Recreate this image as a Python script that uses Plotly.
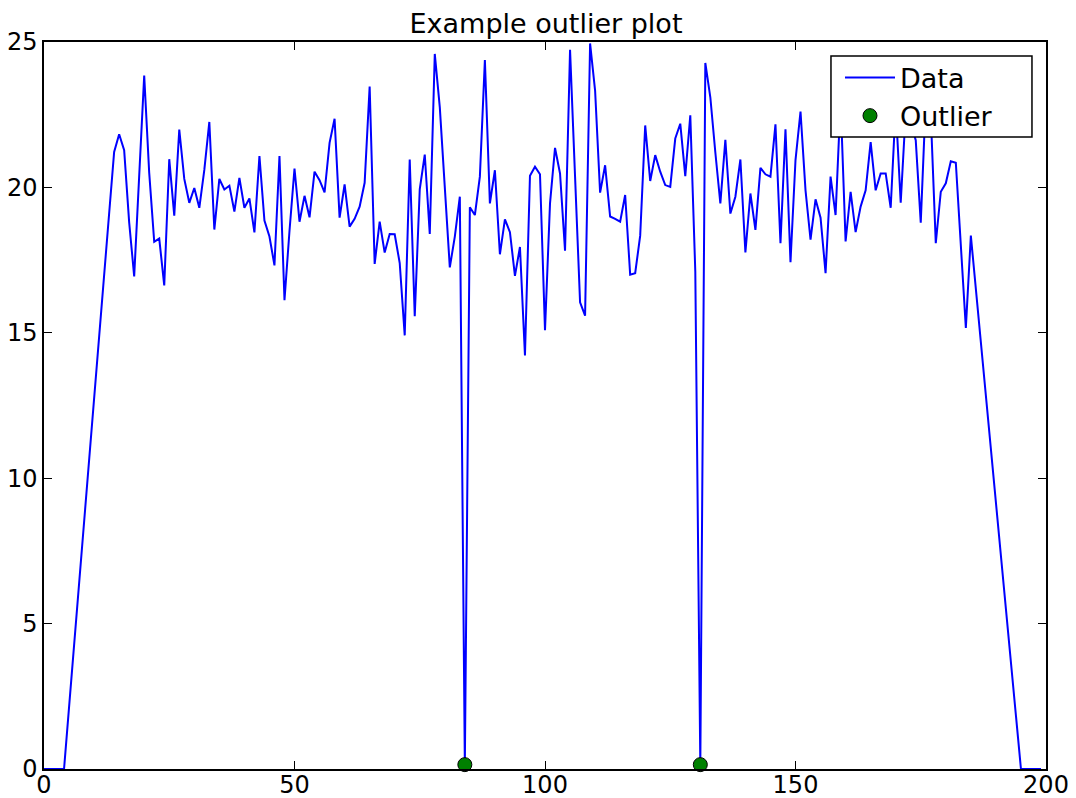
import plotly.graph_objects as go

# Data
lead_x = [0, 4]
lead_y = [0.0, 0.0]
start_x = 14
body_y = [
    21.22, 21.83, 21.28, 18.8, 16.94, 20.4, 23.85, 20.5, 18.13, 18.24,   # 14-23
    16.63, 20.97, 19.03, 21.99, 20.29, 19.47, 19.98, 19.3, 20.6, 22.25,  # 24-33
    18.55, 20.29, 19.93, 20.06, 19.17, 20.33, 19.3, 19.62, 18.45, 21.08, # 34-43
    18.86, 18.31, 17.32, 21.08, 16.12, 18.5, 20.65, 18.82, 19.71, 18.97, # 44-53
    20.54, 20.25, 19.83, 21.53, 22.36, 18.96, 20.1, 18.65, 18.92, 19.34, # 54-63
    20.16, 23.47, 17.37, 18.82, 17.76, 18.4, 18.39, 17.4, 14.91, 20.96,  # 64-73
    15.57, 19.93, 21.13, 18.4, 24.59, 22.76, 20.0, 17.25, 18.31, 19.68,  # 74-83
    0.15, 19.32, 19.05, 20.37, 24.38, 19.45, 20.59, 17.7, 18.9, 18.46,   # 84-93
    16.96, 17.95, 14.22, 20.4, 20.71, 20.45, 15.09, 19.45, 21.36, 20.48, # 94-103
    17.82, 24.73, 20.37, 16.05, 15.59, 24.95, 23.33, 19.82, 20.76, 19.0, # 104-113
    18.92, 18.82, 19.74, 17.0, 17.05, 18.34, 22.13, 20.22, 21.11, 20.54, # 114-123
    20.08, 20.02, 21.68, 22.19, 20.39, 22.48, 17.1, 0.15, 24.28, 23.1,   # 124-133
    21.2, 19.45, 21.64, 19.1, 19.68, 20.96, 17.76, 19.79, 18.54, 20.67,  # 134-143
    20.45, 20.37, 22.17, 18.08, 22.0, 17.43, 20.94, 22.61, 19.9, 18.2,   # 144-153
    19.59, 18.96, 17.05, 20.37, 19.05, 23.0, 18.14, 19.85, 18.46, 19.34, # 154-163
    19.9, 21.56, 19.9, 20.48, 20.48, 19.3, 22.8, 19.47, 22.6, 22.2,      # 164-173
    21.62, 18.79, 23.0, 22.5, 18.08, 19.85, 20.14, 20.9, 20.85, 18.0,    # 174-183
    15.17, 18.34,                                                        # 184-185
]
tail_x = [195, 199]
tail_y = [0.0, 0.0]

outlier_x = [84, 131]

data_x = lead_x + list(range(start_x, start_x + len(body_y))) + tail_x
data_y = lead_y + body_y + tail_y
outlier_y = [data_y[data_x.index(v)] for v in outlier_x]

x_ticks = [0, 50, 100, 150, 200]
y_ticks = [0, 5, 10, 15, 20, 25]

FONT = "DejaVu Sans"

fig = go.Figure()
fig.add_trace(go.Scatter(
    x=data_x, y=data_y, mode="lines", name="Data",
    line=dict(color="#0000ff", width=2),
))
fig.add_trace(go.Scatter(
    x=outlier_x, y=outlier_y, mode="markers", name="Outlier",
    marker=dict(color="#008000", size=14, symbol="circle",
                line=dict(color="#000000", width=1)),
    cliponaxis=False,
))

axis_common = dict(
    showgrid=False, zeroline=False, showline=True, linecolor="#000000",
    linewidth=1.5, mirror="allticks", ticks="inside", ticklen=8,
    tickcolor="#000000", tickwidth=1, automargin=False,
    tickfont=dict(family=FONT, size=24, color="#000000"),
)

# legend frame (white box with black border, drawn over the data like matplotlib)
legend_frame = dict(type="rect", xref="paper", yref="paper",
                    x0=0.7854, x1=0.986, y0=0.8693, y1=0.9807,
                    fillcolor="white", line=dict(color="#000000", width=1.5),
                    layer="above")

fig.update_layout(
    width=1076, height=798,
    margin=dict(l=36, r=38, t=34, b=37, autoexpand=False),
    paper_bgcolor="white", plot_bgcolor="white",
    title=dict(text="Example outlier plot", x=0.5, xanchor="center",
               y=0.98, yanchor="middle", automargin=False,
               font=dict(family=FONT, size=27, color="#000000")),
    xaxis=dict(range=[0, 200], tickvals=x_ticks, ticklabelstandoff=-7,
               **axis_common),
    yaxis=dict(range=[0, 25], tickvals=y_ticks, **axis_common),
    shapes=[legend_frame],
    legend=dict(x=0.7944, xanchor="left", y=0.9842, yanchor="top",
                bgcolor="rgba(0,0,0,0)", borderwidth=0,
                font=dict(family=FONT, size=27, color="#000000"),
                itemwidth=50),
    showlegend=True,
)

fig.write_html("out.html")
